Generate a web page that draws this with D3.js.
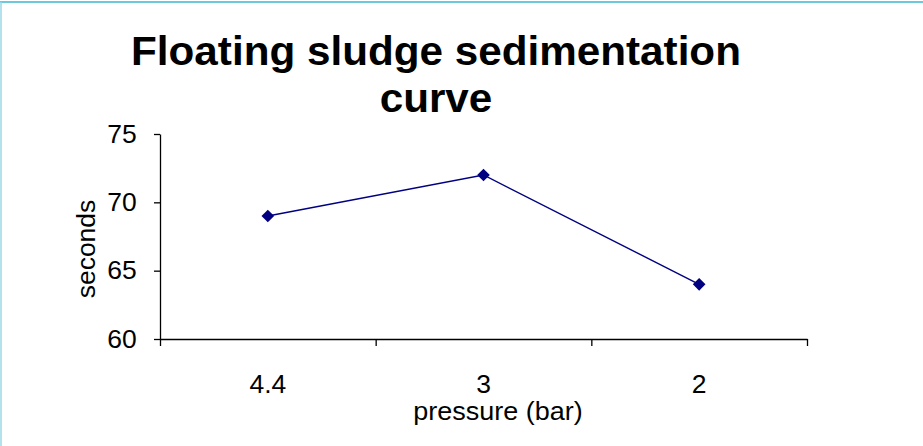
<!DOCTYPE html>
<html><head><meta charset="utf-8">
<script src="https://cdn.jsdelivr.net/npm/d3@7/dist/d3.min.js"></script>
<style>
html,body{margin:0;padding:0;background:#fff;}
svg{display:block;font-family:"Liberation Sans",Arial,sans-serif;}
</style></head>
<body>
<svg id="chart" width="923" height="446"></svg>
<script>
const categories = ["4.4", "3", "2"];
const seconds = [69, 72, 64];
const yTicks = [60, 65, 70, 75];
const titleLines = ["Floating sludge sedimentation", "curve"];
const xTitle = "pressure (bar)";
const yTitle = "seconds";

const svg = d3.select("#chart");
// border
svg.append("line").attr("x1",0).attr("x2",923).attr("y1",2).attr("y2",2)
  .attr("stroke","#3cb6d2").attr("stroke-width",1.5);
svg.append("line").attr("x1",1).attr("x2",1).attr("y1",2).attr("y2",446)
  .attr("stroke","#9ad8e6").attr("stroke-width",1.5);

const plotLeft = 160, plotRight = 807, plotTop = 134, plotBottom = 339;
const x = d3.scaleBand().domain(categories).range([plotLeft, plotRight]).padding(0);
const y = d3.scaleLinear().domain([60, 75]).range([plotBottom, plotTop]);

// title
titleLines.forEach((t, i) => {
  svg.append("text")
    .attr("transform", `translate(436,${65 + i * 47}) scale(1.03,1)`)
    .attr("text-anchor","middle")
    .attr("font-size", 41).attr("font-weight","bold").attr("fill","#000")
    .text(t);
});

// y axis
const yAxis = svg.append("g").attr("transform",`translate(${plotLeft},0)`)
  .call(d3.axisLeft(y).tickValues(yTicks).tickSize(6).tickSizeOuter(0).tickPadding(16));
yAxis.select(".domain").attr("stroke","#000").attr("stroke-width",1.3);
yAxis.selectAll(".tick line").attr("stroke","#000").attr("stroke-width",1.3);
yAxis.selectAll(".tick text").attr("font-size",25).attr("fill","#000")
  .attr("font-family","Liberation Sans, Arial, sans-serif")
  .attr("transform","scale(1.06,1)");

// x axis
const xAxis = svg.append("g").attr("transform",`translate(0,${plotBottom})`)
  .call(d3.axisBottom(x).tickSize(0).tickSizeOuter(0).tickPadding(36));
xAxis.select(".domain").attr("stroke","#000").attr("stroke-width",1.3);
xAxis.selectAll(".tick text").attr("font-size",25).attr("fill","#000")
  .attr("font-family","Liberation Sans, Arial, sans-serif")
  .attr("dy", "0").attr("y", 54).attr("transform","scale(1.06,1)");
// boundary ticks
const bounds = categories.map(c => x(c)).concat([x(categories[categories.length-1]) + x.bandwidth()]);
xAxis.selectAll("line.bound").data(bounds).enter().append("line").attr("class","bound")
  .attr("x1", d => d + 0.5).attr("x2", d => d + 0.5).attr("y1", 0).attr("y2", 7)
  .attr("stroke","#000").attr("stroke-width",1.3);

// axis titles
svg.append("text").attr("transform","translate(498,420) scale(1.08,1)")
  .attr("text-anchor","middle").attr("font-size",25).attr("fill","#000").text(xTitle);
svg.append("text").attr("transform","translate(95,249) rotate(-90) scale(1.06,1)")
  .attr("text-anchor","middle").attr("font-size",25).attr("fill","#000").text(yTitle);

// line
const cx = d => x(d) + x.bandwidth()/2;
const line = d3.line().x((d,i) => cx(categories[i])).y(d => y(d));
svg.append("path").datum(seconds).attr("d", line)
  .attr("fill","none").attr("stroke","#000080").attr("stroke-width",1.4);
svg.selectAll("path.marker").data(seconds).enter().append("path").attr("class","marker")
  .attr("d", d3.symbol().type(d3.symbolSquare).size(80))
  .attr("transform", (d,i) => `translate(${cx(categories[i])},${y(d)}) rotate(45)`)
  .attr("fill","#000080");
</script>
</body></html>
